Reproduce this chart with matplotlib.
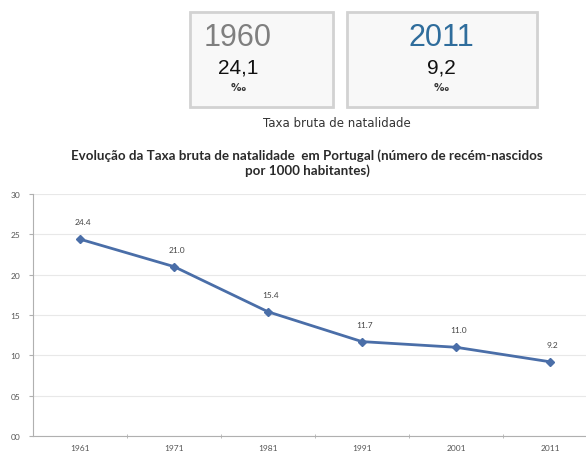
import matplotlib
matplotlib.use("Agg")
import matplotlib.pyplot as plt
from matplotlib.patches import Rectangle

years = ["1961", "1971", "1981", "1991", "2001", "2011"]
rates = [24.4, 21.0, 15.4, 11.7, 11.0, 9.2]
yticks = [0, 5, 10, 15, 20, 25, 30]
ytick_labels = ["00", "05", "10", "15", "20", "25", "30"]

box_years = ["1960", "2011"]
box_values = ["24,1", "9,2"]
box_year_colors = ["#7f7f7f", "#2f6d9c"]

W, H = 586, 456
fig = plt.figure(figsize=(W / 100, H / 100), dpi=100)

def fx(x):
    return x / W

def fy(y):
    return 1 - y / H

# KPI boxes: (left, top, width, height, text centre x)
boxes = [(190, 13, 143, 95, 238), (347, 13, 190, 95, 441)]
for i, (x, y, w, h, cx) in enumerate(boxes):
    fig.patches.append(Rectangle((fx(x), fy(y + h)), w / W, h / H, transform=fig.transFigure,
                                 facecolor="#f8f8f8", edgecolor="#d2d2d2", linewidth=2))
    fig.text(fx(cx), fy(38), box_years[i], ha="center", va="center", fontsize=22,
             color=box_year_colors[i], family="Liberation Sans")
    fig.text(fx(cx), fy(68), box_values[i], ha="center", va="center", fontsize=15,
             color="#111111", family="Liberation Sans")
    fig.text(fx(cx), fy(88), "‰", ha="center", va="center", fontsize=7.5,
             color="#333333", family="DejaVu Sans", fontweight="bold")

fig.text(fx(337), fy(124), "Taxa bruta de natalidade", ha="center", va="center",
         fontsize=8.5, color="#333333", family="DejaVu Sans")

fig.text(fx(307), fy(163),
         "Evolução da Taxa bruta de natalidade  em Portugal (número de recém-nascidos\npor 1000 habitantes)",
         ha="center", va="center", fontsize=9.6, fontweight="bold", color="#2a2a2a",
         family="Lato", linespacing=1.25)

# Chart axes
ax = fig.add_axes([fx(33), fy(437), 564 / W, 242 / H])
x = list(range(len(years)))
ax.plot(x, rates, color="#4a6ea8", linewidth=2, marker="D", markersize=4,
        markerfacecolor="#4a6ea8", markeredgecolor="#4a6ea8")
for xi, v in zip(x, rates):
    ax.annotate(f"{v:.1f}", (xi, v), xytext=(2, 10), textcoords="offset points",
                ha="center", va="bottom", fontsize=6, color="#444444", family="Lato")

ax.set_xlim(-0.5, len(years) - 0.5)
ax.set_ylim(0, 30)
ax.set_yticks(yticks)
ax.set_yticklabels(ytick_labels)
ax.set_xticks(x)
ax.set_xticklabels(years)
ax.set_xticks([i + 0.5 for i in range(len(years) - 1)], minor=True)
ax.tick_params(axis="both", which="major", labelsize=6, colors="#555555", length=0, pad=6)
ax.tick_params(axis="x", which="minor", length=3, color="#b0b0b0", direction="inout")
ax.tick_params(axis="y", length=3, color="#b0b0b0", direction="out")
for lbl in ax.get_xticklabels() + ax.get_yticklabels():
    lbl.set_family("Lato")
ax.grid(axis="y", color="#e8e8e8", linewidth=0.8)
ax.set_axisbelow(True)
for s in ["top", "right"]:
    ax.spines[s].set_visible(False)
ax.spines["left"].set_color("#b0b0b0")
ax.spines["bottom"].set_color("#b0b0b0")
ax.set_facecolor("white")

fig.savefig("out.png", dpi=100)
